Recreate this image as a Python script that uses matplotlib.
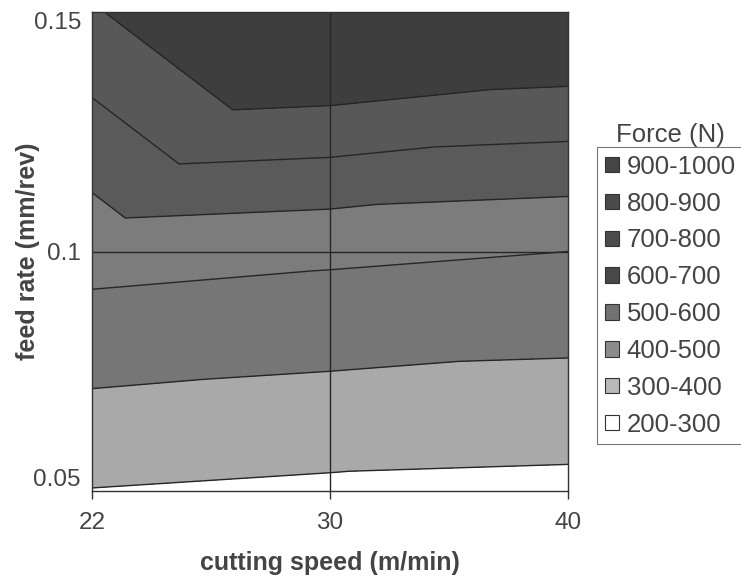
import matplotlib

matplotlib.use("Agg")
import matplotlib.pyplot as plt
import matplotlib.tri as mtri
import numpy as np
from matplotlib.patches import Patch

plt.rcParams["font.family"] = ["Liberation Sans", "DejaVu Sans"]

# grid of the response surface (rows = feed rate, cols = cutting speed)
speed_labels = ["22", "30", "40"]
feed_labels = ["0.05", "0.1", "0.15"]
force_row_005 = [397, 382, 375]
force_row_010 = [638, 618, 600]
force_row_015 = [890, 1081, 1035]

# contour bands as they appear on the plot
band_edges = [300, 400, 500, 600, 700, 800, 900, 1200]
band_colors = ["#ffffff", "#a9a9a9", "#767676", "#7c7c7c", "#5a5a5a", "#585858", "#3e3e3e"]
line_levels = [400, 500, 600, 700, 800, 900]

# legend entries
legend_labels = ["900-1000", "800-900", "700-800", "600-700",
                 "500-600", "400-500", "300-400", "200-300"]
legend_colors = ["#454545", "#4a4a4a", "#4c4c4c", "#484848",
                 "#717171", "#8c8c8c", "#b9b9b9", "#ffffff"]

force = np.array([force_row_005, force_row_010, force_row_015], dtype=float)
ny, nx = force.shape
xx, yy = np.meshgrid(np.arange(nx), np.arange(ny))

# split every grid cell along its lower-left -> upper-right diagonal
tris = []
for j in range(ny - 1):
    for i in range(nx - 1):
        ll = j * nx + i
        lr = ll + 1
        ul = ll + nx
        ur = ul + 1
        tris.append([ll, lr, ur])
        tris.append([ll, ur, ul])
tri = mtri.Triangulation(xx.ravel(), yy.ravel(), np.array(tris))

fig = plt.figure(figsize=(7.41, 5.79), dpi=100)
ax = fig.add_axes([92 / 741, 1 - 491 / 579, (568 - 92) / 741, (491 - 12) / 579])

ax.tricontourf(tri, force.ravel(), levels=band_edges, colors=band_colors)
ax.tricontour(tri, force.ravel(), levels=line_levels, colors="#262626", linewidths=1.0)

ax.axvline(1, color="#262626", linewidth=1.0)
ax.axhline(1, color="#262626", linewidth=1.0)

ax.set_xlim(0, nx - 1)
ax.set_ylim(0, ny - 1)
ax.set_xticks(range(nx))
ax.set_xticklabels(speed_labels)
ax.set_yticks(range(ny))
ax.set_yticklabels(feed_labels)
ax.tick_params(axis="x", length=6, width=1.0, color="#333333", pad=9,
               labelsize=17.5, labelcolor="#444444")
ax.tick_params(axis="y", length=0, pad=8, labelsize=17.5, labelcolor="#444444")
ylabs = ax.get_yticklabels()
ylabs[0].set_va("bottom")
ylabs[-1].set_va("top")

for s in ax.spines.values():
    s.set_color("#333333")
    s.set_linewidth(1.0)

ax.set_xlabel("cutting speed (m/min)", fontsize=18, fontweight="bold",
              color="#444444")
ax.xaxis.set_label_coords(0.5, -(563 - 491) / 479, transform=ax.transAxes)
ax.xaxis.label.set_va("center")
ax.set_ylabel("feed rate (mm/rev)", fontsize=18, fontweight="bold",
              color="#444444")
ax.yaxis.set_label_coords(-(92 - 28) / 476, 0.5, transform=ax.transAxes)
ax.yaxis.label.set_va("center")

fig.text(670 / 741, 1 - 135 / 579, "Force (N)", fontsize=18.5, color="#444444",
         ha="center", va="center")

handles = [Patch(facecolor=c, edgecolor="#333333", linewidth=0.8) for c in legend_colors]
leg = fig.legend(handles, legend_labels, loc="upper left",
                 bbox_to_anchor=(597 / 741, 1 - 147 / 579),
                 bbox_transform=fig.transFigure, fontsize=18.5,
                 frameon=True, fancybox=False, edgecolor="#555555",
                 borderaxespad=0, borderpad=0.3, handlelength=0.55,
                 handleheight=0.55, handletextpad=0.3, labelspacing=0.5)
leg.get_frame().set_linewidth(0.8)
for t in leg.get_texts():
    t.set_color("#444444")

fig.savefig("out.png", dpi=100, facecolor="white")
